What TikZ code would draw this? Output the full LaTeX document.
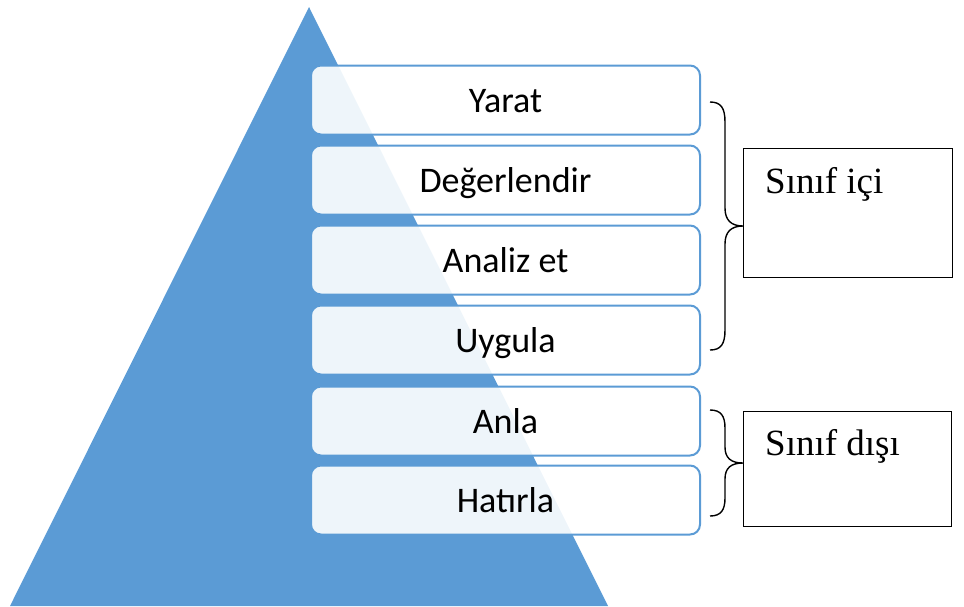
\documentclass[tikz,border=0pt]{standalone}
\usepackage{fontspec}
\setmainfont{Liberation Serif}
\newfontfamily\boxfont{Carlito}
\definecolor{triblue}{HTML}{5B9BD5}
\definecolor{edgeblue}{HTML}{5B9BD5}
\begin{document}
\begin{tikzpicture}[x=1pt,y=-1pt,
  level/.style={draw=edgeblue, line width=2pt, fill=white, fill opacity=0.9, text opacity=1,
    rounded corners=10pt, minimum width=389pt, minimum height=69pt, inner sep=0pt,
    font=\boxfont\fontsize{36}{40}\selectfont, text height=24pt, text depth=0pt},
  sidebox/.style={draw=black, line width=1.2pt, anchor=north west, inner sep=0pt},
  sidetext/.style={anchor=base west, inner sep=0pt, font=\fontsize{37}{42}\selectfont},
  bracepath/.style={draw=black, line width=1.4pt}]
\useasboundingbox (0,0) rectangle (964,606);
% pyramid
\fill[triblue] (309,7) -- (608,606) -- (10,606) -- cycle;
% levels
\node[level] (yarat) at (505.5,100) {Yarat};
\node[level] (deger) at (505.5,180) {Değerlendir};
\node[level] (analiz) at (505.5,260) {Analiz et};
\node[level] (uygula) at (505.5,340) {Uygula};
\node[level] (anla) at (505.5,421) {Anla};
\node[level] (hatirla) at (505.5,500) {Hatırla};
% side boxes
\node[sidebox, minimum width=209pt, minimum height=129pt] (ici) at (743,148) {};
\node[sidebox, minimum width=208pt, minimum height=115pt] (disi) at (743,411) {};
\node[sidetext] (icit) at (765,193) {Sınıf içi};
\node[sidetext] (disit) at (765,455) {Sınıf dışı};
% braces
\coordinate (b1t) at (710,102);
\coordinate (b1b) at (710,350);
\coordinate (b1m) at (ici.west |- 0,226);
\draw[bracepath] (b1t) .. controls (721,102) and (725,108) .. (725,122)
  -- (725,208) .. controls (725,220) and (731,226) .. (b1m)
  .. controls (731,226) and (725,232) .. (725,244)
  -- (725,330) .. controls (725,344) and (721,350) .. (b1b);
\coordinate (b2t) at (710,410);
\coordinate (b2b) at (710,516);
\coordinate (b2m) at (disi.west |- 0,463);
\draw[bracepath] (b2t) .. controls (721,410) and (725,416) .. (725,428)
  -- (725,447) .. controls (725,458) and (731,463) .. (b2m)
  .. controls (731,463) and (725,468) .. (725,479)
  -- (725,498) .. controls (725,510) and (721,516) .. (b2b);
\end{tikzpicture}
\end{document}
